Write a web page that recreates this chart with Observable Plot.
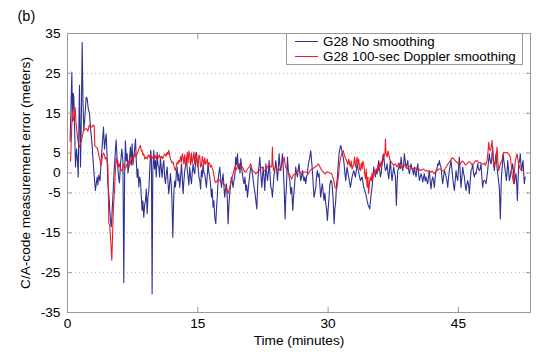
<!DOCTYPE html>
<html><head><meta charset="utf-8">
<script src="https://cdn.jsdelivr.net/npm/d3@7"></script>
<script src="https://cdn.jsdelivr.net/npm/@observablehq/plot@0.6"></script>
<style>
body{margin:0;background:#fff;font-family:"Liberation Sans",Arial,Helvetica,sans-serif;}
#wrap{position:relative;width:540px;height:355px;}
#legend{position:absolute;left:286px;top:33px;width:237px;height:32px;box-sizing:border-box;border:1px solid #999;background:#fff;font-size:13.4px;color:#000;}
.row{position:absolute;left:0;height:15px;display:flex;align-items:center;white-space:nowrap;line-height:15px;}
.sw{display:inline-block;width:23px;height:0;border-top:1px solid;margin-left:8px;margin-right:5px;}
</style></head><body>
<div id="wrap"><div id="chart"></div><div id="legend"></div></div>
<script>
const panelLabel = "(b)";
const xLabel = "Time (minutes)";
const yLabel = "C/A-code measurement error (meters)";
const xTicks = [0, 15, 30, 45];
const yTicks = [-35, -25, -15, -5, 0, 5, 15, 25, 35];
const seriesNames = ["G28 No smoothing", "G28 100-sec Doppler smoothing"];
const seriesColors = ["#2e3192", "#ed1c24"];

const blueT = [0.30,0.42,0.50,0.58,0.66,0.73,0.85,0.92,1.04,1.15,1.23,1.30,1.38,1.50,1.60,1.69,1.78,1.88,2.00,2.15,2.26,2.40,2.53,2.66,2.80,2.92,3.03,3.12,3.22,3.32,3.41,3.50,3.60,3.75,3.87,4.00,4.14,4.26,4.35,4.45,4.56,4.64,4.75,4.83,4.95,5.05,5.15,5.25,5.33,5.41,5.50,5.60,5.70,5.79,5.88,5.98,6.10,6.25,6.38,6.48,
6.58,6.67,6.77,6.87,6.96,7.06,7.15,7.25,7.35,7.44,7.53,7.63,7.73,7.83,7.92,8.02,8.11,8.21,8.30,8.40,8.50,8.59,8.68,8.78,8.88,8.98,9.07,9.17,9.26,9.36,9.48,9.58,9.66,9.74,9.82,9.93,10.02,10.12,10.22,10.32,10.41,10.51,10.60,10.70,10.80,10.89,10.99,11.09,11.18,11.28,11.38,11.47,11.56,11.66,11.75,11.85,11.95,12.04,12.12,12.24,12.33,12.43,12.53,12.62,12.71,12.81,
12.92,13.02,13.12,13.21,13.31,13.40,13.50,13.60,13.69,13.78,13.88,13.97,14.07,14.17,14.27,14.36,14.46,14.55,14.65,14.75,14.84,14.94,15.03,15.13,15.23,15.32,15.42,15.51,15.61,15.70,15.80,15.90,15.99,16.08,16.18,16.28,16.38,16.47,16.57,16.66,16.76,16.85,16.95,17.07,17.15,17.22,17.31,17.41,17.53,17.62,17.72,17.81,17.91,18.00,18.10,18.20,18.29,18.39,18.49,18.58,18.68,18.77,18.87,18.96,19.06,19.15,19.25,
19.37,19.47,19.57,19.66,19.76,19.86,19.95,20.05,20.14,20.24,20.33,20.43,20.52,20.62,20.72,20.81,20.91,21.00,21.10,21.20,21.29,21.39,21.48,21.58,21.68,21.79,21.88,21.98,22.06,22.14,22.25,22.37,22.45,22.52,22.62,22.71,22.78,22.83,22.93,23.02,23.12,23.21,23.30,23.40,23.50,23.59,23.69,23.79,23.88,23.98,24.07,24.17,24.26,24.36,24.45,24.55,24.64,24.74,24.84,24.94,25.05,25.13,25.20,25.26,25.32,25.41,25.51,25.60,25.70,
25.81,25.93,26.02,26.12,26.20,26.27,26.37,26.47,26.56,26.66,26.75,26.85,26.94,27.04,27.13,27.23,27.32,27.42,27.52,27.62,27.71,27.81,27.90,28.00,28.10,28.19,28.29,28.38,28.48,28.58,28.67,28.77,28.86,28.96,29.05,29.15,29.25,29.34,29.44,29.53,29.63,29.73,29.82,29.92,30.01,30.11,30.20,30.30,30.40,30.49,30.59,30.69,30.78,30.88,30.97,31.07,31.16,31.26,31.35,31.45,31.55,31.64,31.74,31.84,31.93,32.03,32.10,
32.18,32.37,32.57,32.76,32.95,33.15,33.34,33.53,33.72,33.91,34.10,34.30,34.49,34.60,34.79,34.92,35.06,35.16,35.25,35.35,35.45,35.54,35.64,35.73,35.83,35.93,36.02,36.12,36.21,36.30,36.40,36.50,36.60,36.70,36.79,36.89,36.98,37.08,37.17,37.27,37.36,37.46,37.55,37.65,37.75,37.86,37.94,38.01,38.11,38.21,38.30,38.40,38.50,38.59,38.69,38.78,38.88,38.97,39.07,39.17,39.26,39.36,39.45,39.55,39.65,39.74,39.84,39.93,40.03,40.12,40.22,40.32,40.41,40.51,40.60,40.70,40.80,40.89,40.99,41.08,41.18,41.28,41.37,41.47,41.56,41.66,41.75,41.85,41.94,42.04,42.14,42.23,42.33,42.43,42.52,42.62,42.71,42.81,42.90,43.00,43.10,43.19,43.29,43.39,43.48,43.58,43.68,43.77,43.87,43.96,44.06,44.15,44.25,44.34,44.44,44.54,44.63,44.73,44.82,44.92,45.01,45.11,45.21,45.30,45.40,45.50,45.59,45.69,45.78,45.88,45.97,46.07,46.17,46.26,46.36,46.45,46.55,46.65,46.74,46.84,46.93,47.03,47.13,47.22,47.32,47.41,47.51,47.60,47.70,47.80,47.89,47.99,48.08,48.18,48.28,48.37,48.47,48.56,48.66,48.76,48.85,48.95,49.04,49.14,49.23,49.33,49.42,49.52,49.62,49.71,49.83,49.92,49.98,50.06,50.14,50.24,50.33,50.43,50.52,50.60,50.67,50.77,50.87,50.96,51.06,51.15,51.25,51.35,51.44,51.54,51.63,51.72,51.79,51.86,51.94,52.03,52.13,52.20,52.28,52.36,52.44,52.52,52.59,52.68];
const blueV = [8,18,25.3,13,20,19,8,1.5,6,3,-1,10,22,1.5,15,32.8,18,10.6,14,19,18.7,16,15,11,8,4,0.6,-2,-4.4,-2.5,-1,-3,-0.5,-2,3,7,11.5,6,8,9.8,4,-2.6,-5,-8,-12,-13.5,-9,-5,-1,2,5,8.3,4,1.5,-1,-2.5,2,6,3,-27.5,
0,8.1,3,4.8,0,1.5,4,6.5,2,7.3,2,4.0,6,8.5,3,-1.1,1,-3.5,-1,-1.9,-6,-9.4,-7,-11.1,-8,-6.9,-4,-10.2,-6,-4.4,1.5,5.7,3,-30.3,0,5.7,1,3.1,-1,5.2,2,1.5,-1,4.0,1,-1.1,2,3.1,-1,-2.7,0,1.5,-2,-5.2,-3,-0.2,-3,-8,-16.1,-5.2,-2,-3.5,0,1.5,-2,-0.2,
-3.6,-1,2.3,-1,-5.2,-2,0.6,2,4.0,1,-1.0,-3,1.5,-1,-2.7,0,2.3,0.5,-0.2,3,5.2,3,1.5,-1,-1.9,-4,0.6,-1,2.3,0,-0.2,-2,-3.6,-1,2.3,0,-1.0,-3,-6.1,-4,-8.6,-7,-11.1,-12.7,-9,-6.9,-3,-0.2,1.5,-1,-3.6,-2,-0.2,-3,-6.1,-4,-2.7,-6,-12.7,-8,-5.2,-3,-1.0,-2,-3.6,-2,-1.0,
4.0,2,4.8,1,2.3,0,3.6,1,-0.2,-2,-2.7,-1,-4.4,-3,-6.1,-4,-1.9,0,1.5,1,-0.2,-2,-3.6,-5,-6.9,-9.0,-4,0.6,2,4.0,0,-3.6,-1,1.5,-1,-4.4,-1,2.3,0,-1.9,0,3.1,0,-3.6,-4,-6.1,-3,-0.2,1,3.1,1,-1.9,1,4.8,2,0.6,2,4.8,1,-3.6,-11.5,-6,-3.6,0,4.0,1,-1.0,-2,-5.2,
-3.6,-9.4,-6,-3.6,-1,1.5,0,-1.0,1,2.3,0,-1.9,-1,0.6,-1,-2,-1,-2.7,-1,-0.2,2,3.1,4,5.6,3,0.6,-3,-6.1,-5,-3.6,-1,0.6,-1,-0.2,-3,-6.1,-4,-2.7,-5,-6.9,-5,-7.7,-9,-11.9,-9,-6.1,-3,-1.9,-2,-3.6,-7,-12.7,-9,-6.9,-3,-1.0,2,4.8,6,6.9,6,4.8,4,2.3,0,-1.9,0,
1.5,-1,-3.6,-1,0.6,-1,2.3,0,-1.9,-1,-3.6,-5,-6.9,-8,-9.0,-6,-3.6,-1,1.5,0,-1.0,1,-0.2,1,3.1,1,-1.0,0,2.3,3,4.8,2,0.6,1,2.3,0,-1.5,1,3.1,0,-1.9,0,1.5,0,-1.0,-8.1,-3,0.6,1,2.3,1,4.0,2,0.6,2,4.8,3,1.5,2,3.1,1,-0.2,1,2.3,1,0.6,-0.5,1.5,0,-1.0,1,2.3,0,-1.9,-1,-0.2,-1,-2.3,-1,-0.2,-2,-1.0,-2,-2.7,-1,0.6,-2,-4.0,-2,-1.0,-2,-3.6,-1,0.6,1,2.3,2,3.1,2,1.5,-1,-2.7,-1,0.6,0,-1.0,-2,-3.6,-1,0.6,2,3.1,1,-1.0,-3,-4.4,-2,0.6,-1,-1.9,1,4.0,0,-3.6,-1,1.5,0,-1.0,-3,-4.4,-3,-1.9,-3,-5.2,-2,0.6,1,2.3,0,-1.0,0,-0.2,1,2.3,1,0.6,1,2.3,-1,-3.6,-2,-1.9,-2,-2.7,-1,0.6,3,4.8,3,2.3,4,6.5,3,0.6,3,4.8,2,-0.2,-2,-3.6,-11.5,-3,-0.2,2,4.8,3,1.5,0,-1.9,0,3.1,1,-1.9,-1,0.6,1,2.3,0,-2.7,-1,-0.2,-3,-6.9,-2,2.3,3,4.8,2,0.6,2,3.1,0,-2.7,-1];

const redT = [0.35,0.45,0.55,0.61,0.73,0.80,0.88,1.0,1.1,1.2,1.3,1.4,1.5,1.6,1.72,1.85,2.0,2.2,2.35,2.5,2.65,2.8,2.95,3.07,3.14,3.3,3.45,3.6,3.75,3.87,4.0,4.13,4.26,4.35,4.45,4.55,4.64,4.70,4.76,4.85,4.95,5.03,5.10,5.17,5.25,5.33,5.41,5.50,5.60,5.70,5.79,5.88,5.98,6.10,6.25,6.37,6.48,6.60,6.73,6.87,7.0,7.12,7.25,7.38,7.50,7.63,7.75,7.88,8.02,8.15,8.28,8.40,8.50,8.59,8.68,8.78,8.90,9.03,9.17,9.30,9.43,9.55,9.68,9.80,9.93,10.06,10.19,10.32,10.45,10.57,10.70,10.83,10.96,11.09,11.22,11.35,11.47,11.56,11.66,11.75,11.85,11.95,12.05,12.15,12.24,12.34,12.43,12.53,12.62,12.71,12.81,
12.92,13.02,13.12,13.21,13.31,13.40,13.50,13.60,13.69,13.78,13.88,13.97,14.07,14.17,14.27,14.36,14.46,14.55,14.65,14.75,14.84,14.94,15.03,15.13,15.23,15.32,15.42,15.51,15.61,15.70,15.80,15.90,15.99,16.09,16.19,16.28,16.38,16.47,16.57,16.66,16.76,16.85,16.95,17.05,17.14,17.33,17.53,17.72,17.91,18.10,18.29,18.39,18.49,18.58,18.68,18.87,19.06,19.25,19.37,19.57,19.76,19.95,20.14,20.33,20.52,20.72,20.91,21.10,21.20,21.29,21.48,21.68,21.87,22.06,22.25,22.44,22.63,22.83,23.02,23.21,23.36,23.52,23.59,23.65,23.71,23.85,23.98,24.17,24.36,24.55,24.74,24.84,24.94,25.03,25.13,25.32,25.51,25.66,25.81,26.00,26.20,26.39,26.58,26.77,26.96,27.15,27.35,27.54,27.73,27.92,28.12,28.31,28.50,28.69,28.88,29.07,29.27,29.46,29.65,29.84,30.03,30.23,30.42,30.61,30.80,30.99,31.09,31.18,31.28,31.38,31.47,31.57,31.66,31.76,31.86,31.95,32.05,32.14,
32.29,32.37,32.57,32.66,32.76,32.95,33.05,33.15,33.34,33.44,33.53,33.62,33.72,33.82,33.91,34.01,34.10,34.20,34.30,34.39,34.49,34.58,34.68,34.78,34.87,34.97,35.06,35.16,35.25,35.35,35.45,35.54,35.64,35.73,35.83,35.93,36.02,36.12,36.21,36.30,36.40,36.55,36.60,36.66,36.79,36.89,36.98,37.08,37.17,37.36,37.55,37.75,37.94,38.13,38.32,38.52,38.71,38.90,39.09,39.28,39.47,39.67,39.86,40.05,40.24,40.43,40.62,40.82,41.01,41.20,41.39,41.58,41.77,41.97,42.16,42.35,42.54,42.73,42.93,43.12,43.31,43.50,43.69,43.88,44.08,44.27,44.46,44.65,44.84,45.04,45.23,45.42,45.61,45.80,45.99,46.19,46.38,46.57,46.76,46.95,47.14,47.34,47.53,47.72,47.91,48.01,48.10,48.20,48.30,48.40,48.49,48.58,48.68,48.78,48.87,48.95,49.06,49.16,49.25,49.35,49.45,49.54,49.64,49.73,49.83,49.93,50.02,50.12,50.21,50.40,50.60,50.79,50.98,51.08,51.17,51.27,51.36,51.46,51.56,51.65,51.75,51.84,51.94,52.03,52.13,52.22,52.32,52.42,52.52];
const redV = [3.0,9,15.7,14,13.2,15,16.5,12,10,8.1,7,6.5,7.5,8,9.5,10.6,11,11.1,10.5,12.0,11.5,11.5,12,11.9,6.9,6.5,6.2,4.5,3.1,2,4.0,5,4.5,3.5,3.9,3,2.3,-4,-12.7,-13,-16.1,-19,-21.9,-17,-11.1,-7,-4.4,0,3.8,2.5,3.1,1.5,2.3,1.0,0.5,1.5,2.3,1,1.5,2.3,3,1.8,2.7,4,3,4.0,5,4,4.8,5.5,6.5,6.9,5.5,5.7,4.5,4.8,3.5,4,3.5,4.5,4,4.8,3.5,4,3.5,4.5,3.5,4.4,3.8,4.6,3.5,4.2,3.6,4.4,4.8,4.2,5.2,4.6,5.7,4.5,3.5,3,2.5,2.8,1.9,1.2,0.6,1.8,2.7,2.2,3.1,
2.7,4.2,2.8,4.8,4.0,2.2,4.6,1.8,2.3,5.2,2.5,5.5,4.4,2,5,2.5,3.6,5.3,2.3,4.8,4.0,1.8,1.5,4.5,4.0,1.5,1.9,4.2,3.1,2.0,3.8,2.2,2.7,3.5,1.8,2.6,2.3,1.5,1.9,1.2,0.6,-0.5,-1.9,-2.4,-2.3,-1.5,-1.9,-2.5,-2.7,-3,-3.6,-4.2,-5.2,-4.5,-3.6,-2,-0.2,1.5,0.6,1.8,2.3,1.2,1.5,0.5,0.2,1,1.5,2.3,1.2,0.6,0.3,-0.2,0.3,0.6,1.2,1.5,0.6,0.6,1.5,2.3,1.6,1.5,6.5,2.5,0.6,1.2,1.5,0.8,0.6,1.5,2.3,3,4.0,2.5,1.5,0.5,-0.2,-0.8,-1.5,-0.5,-0.2,0.5,0.6,0.2,-0.2,0.3,0.2,0.2,-0.2,0.5,1.0,1.2,1.5,1.8,2.3,1.5,0.6,0.2,-0.2,0.3,0.2,0,-0.2,-1.5,-3.6,-4.0,-2.5,-1.0,1.5,3.1,4.0,4.8,5.2,5.6,4.5,4.0,3.5,3.1,
2,3.5,1.5,3,1,2.3,4,1.5,4.0,2,3.5,1,0.6,2.5,1,3,2.3,0,-1.5,1,-3.6,-1,-5.2,-2,-1.0,-2,0,-1.5,-0.6,0.5,-0.5,1,0.6,2,0.5,2.5,1.5,3,2,4.5,4.0,5,8.6,5,4.0,5.5,4.8,3.5,3.1,2.5,1.9,2.3,1.5,2.5,1.9,1.2,2.3,1.6,1.0,1.8,1.5,1.2,1.0,1.3,0.8,1.0,0.6,0.8,1.0,0.5,0.6,0.4,0.2,0.5,-0.2,0.3,0.6,1.0,1.0,0.5,0.6,1.2,1.9,2.5,3.1,3.8,3.6,3.0,2.7,2.0,2.3,3.0,2.7,2.0,2.3,2.8,2.7,2.0,2.3,3.0,3.1,2.5,2.7,2.2,2.3,2.5,1.9,2.5,3.1,5,7.7,6,5.6,6.5,8.2,5,1.5,2.5,2.3,4,6.5,3,0.6,1.5,2.3,2.8,3.1,4.5,5.2,5.0,5.2,4.8,4.0,2,-0.2,-1.5,-2.7,0.5,3.1,4,4.8,3.5,2.3,1.5,1.0,0.8,0.6,0.7,0.6];

const blue = blueT.map((t, i) => ({t, v: blueV[i]}));
const red = redT.map((t, i) => ({t, v: redV[i]}));
const fmt = d => String(d);
const blank = () => "";

const chart = Plot.plot({
  width: 540, height: 355,
  marginLeft: 67, marginRight: 10, marginTop: 33, marginBottom: 43,
  style: {fontFamily: '"Liberation Sans", Arial, Helvetica, sans-serif', fontSize: "13.7px", color: "#000", background: "#fff"},
  x: {domain: [0, 53.3]},
  y: {domain: [-35, 35]},
  marks: [
    Plot.ruleY(yTicks.filter(d => Math.abs(d) < 35), {stroke: "#b8b8b8", strokeDasharray: "1,3"}),
    Plot.lineY(blue, {x: "t", y: "v", stroke: seriesColors[0], strokeWidth: 1.1}),
    Plot.lineY(red, {x: "t", y: "v", stroke: seriesColors[1], strokeWidth: 1.1}),
    Plot.frame({stroke: "#999"}),
    Plot.axisX({anchor: "bottom", ticks: xTicks, tickSize: 0, tickPadding: 6, tickFormat: fmt, label: null}),
    Plot.axisX({anchor: "bottom", ticks: xTicks, tickSize: 5, dy: -5, tickFormat: blank, label: null, stroke: "#999"}),
    Plot.axisX({anchor: "top", ticks: xTicks, tickSize: 5, dy: 5, tickFormat: blank, label: null, stroke: "#999"}),
    Plot.axisY({anchor: "left", ticks: yTicks, tickSize: 0, tickPadding: 7, tickFormat: fmt, label: null}),
    Plot.axisY({anchor: "left", ticks: yTicks, tickSize: 5, dx: 5, tickFormat: blank, label: null, stroke: "#999"}),
    Plot.axisY({anchor: "right", ticks: yTicks, tickSize: 5, dx: -5, tickFormat: blank, label: null, stroke: "#999"}),
    Plot.text([xLabel], {frameAnchor: "bottom", dy: 28, lineAnchor: "middle", textAnchor: "middle", fontSize: 13.7}),
    Plot.text([yLabel], {frameAnchor: "left", dx: -42, rotate: -90, lineAnchor: "middle", textAnchor: "middle", fontSize: 13.7}),
    Plot.text([panelLabel], {frameAnchor: "top-left", dx: -50, dy: -17, textAnchor: "start", lineAnchor: "middle", fontSize: 14.5})
  ]
});
document.getElementById("chart").appendChild(chart);

const legend = document.getElementById("legend");
seriesNames.forEach((name, i) => {
  const row = document.createElement("div");
  row.className = "row";
  row.style.top = (i === 0 ? -0.5 : 14.5) + "px";
  const sw = document.createElement("span");
  sw.className = "sw";
  sw.style.borderTopColor = seriesColors[i];
  row.appendChild(sw);
  row.appendChild(document.createTextNode(name));
  legend.appendChild(row);
});
</script>
</body></html>
